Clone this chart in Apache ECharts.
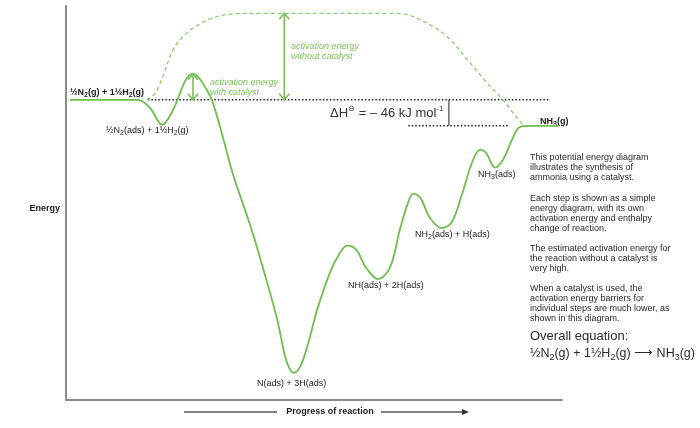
<!DOCTYPE html>
<html><head><meta charset="utf-8">
<script src="https://cdn.jsdelivr.net/npm/echarts@6/dist/echarts.min.js"></script>
<style>html,body{margin:0;padding:0;background:#fff}#c{width:700px;height:428px}</style>
</head><body><div id="c"></div>
<script>
// Catalysed pathway: progress of reaction (0-100) and energy (kJ mol-1, reactants = 0)
const catX = [0.8,14.5,16.9,19.4,21.4,23.4,24.4,25.6,26.8,28.0,29.4,31.5,33.7,37.1,39.7,42.5,44.2,45.0,45.8,46.8,47.8,49.2,50.6,53.2,55.2,56.7,58.5,60.5,62.9,65.3,67.3,69.0,70.0,71.4,73.4,75.8,77.8,79.8,81.9,83.5,84.7,86.5,88.1,89.9,91.5,93.5,99.2];
const catE = [0,0,-14,-44,-21,21,39,46,39,23,0,-62,-133,-221,-297,-386,-455,-474,-483,-478,-460,-419,-372,-306,-271,-258,-265,-297,-317,-297,-230,-181,-166,-173,-209,-227,-216,-168,-110,-88,-94,-120,-106,-71,-48,-46,-46];
// Uncatalysed pathway
const uncatX = [16.3,18.0,19.4,21.6,23.6,25.6,29.6,33.7,39.1,66.7,71.4,76.8,81.5,84.9,88.1,90.5,92.1];
const uncatE = [0,12,39,89,112,127,145,152,153,153,142,112,65,30,0,-27,-44];
const reactantEnergy = 0;
const productEnergy = -46;
const deltaH = productEnergy - reactantEnergy;
const firstBarrierX = 25.6;
const uncatArrowX = 44.0;
const deltaHX = 77.2;
const reactantLevelX = [16.5, 97.6];
const productLevelX = [69.0, 89.5];

const GREEN = '#6fbe4f', LGREEN = '#8ccd6c', AGREEN = '#78c258', TXT = '#222';
const FF = '"Liberation Sans", Arial, Helvetica, sans-serif';

const zip = (xs, ys) => xs.map((x, i) => [x, ys[i]]);
const catPeak = Math.max(...catE);
const uncatPeak = Math.max(...uncatE);

const chart = echarts.init(document.getElementById('c'), null, {renderer: 'canvas'});

function subRich(size, color, weight) {
  return {
    s: {fontSize: Math.round(size * 0.75), fontFamily: FF, fill: color, fontWeight: weight || 'normal',
        verticalAlign: 'bottom', lineHeight: Math.round(size * 0.9)},
    p: {fontSize: Math.round(size * 0.65), fontFamily: FF, fill: color, fontWeight: weight || 'normal',
        verticalAlign: 'top', lineHeight: Math.round(size * 0.9)}
  };
}
function txt(text, x, y, opt) {
  opt = opt || {};
  const size = opt.fontSize || 9, color = opt.fill || TXT;
  return {type: 'text', silent: true, style: Object.assign({
    text: text, x: x, y: y, fill: TXT, fontSize: 9, fontFamily: FF,
    textAlign: 'left', textVerticalAlign: 'middle', lineHeight: Math.round(size * 1.3),
    rich: subRich(size, color, opt.fontWeight)
  }, opt)};
}

const rightStyle = {textVerticalAlign: 'top', lineHeight: 10.2, fill: '#2a2a2a'};

chart.setOption({
  animation: false,
  grid: {left: 66, right: 138, top: 6, bottom: 28},
  xAxis: {type: 'value', min: 0, max: 100,
    axisLine: {show: true, onZero: false, lineStyle: {color: '#8a8a8a', width: 2}},
    axisTick: {show: false}, axisLabel: {show: false}, splitLine: {show: false}},
  yAxis: {type: 'value', min: -531, max: 166,
    axisLine: {show: true, onZero: false, lineStyle: {color: '#8a8a8a', width: 2}},
    axisTick: {show: false}, axisLabel: {show: false}, splitLine: {show: false}},
  series: [
    {type: 'line', name: 'reactant level', data: zip(reactantLevelX, [reactantEnergy, reactantEnergy]),
      showSymbol: false, lineStyle: {color: '#222', width: 1.5, type: [1.5, 2]}, z: 1},
    {type: 'line', name: 'product level', data: zip(productLevelX, [productEnergy, productEnergy]),
      showSymbol: false, lineStyle: {color: '#222', width: 1.5, type: [1.5, 2]}, z: 1},
    {type: 'line', name: 'deltaH', data: [[deltaHX, reactantEnergy], [deltaHX, reactantEnergy + deltaH]],
      showSymbol: false, lineStyle: {color: '#222', width: 1}, z: 1},
    {type: 'line', name: 'without catalyst', data: zip(uncatX, uncatE), smooth: 0.35,
      showSymbol: false, lineStyle: {color: LGREEN, width: 1.3, type: [4, 3]}, z: 2},
    {type: 'line', name: 'with catalyst', data: zip(catX, catE), smooth: 0.35,
      showSymbol: false, lineStyle: {color: GREEN, width: 1.8}, z: 3},
    {type: 'custom', name: 'arrows', coordinateSystem: 'cartesian2d',
      encode: {x: 0, y: [1, 2]},
      data: [[firstBarrierX, reactantEnergy, catPeak], [uncatArrowX, reactantEnergy, uncatPeak]],
      renderItem: function (params, api) {
        const x = api.value(0), lo = api.value(1), hi = api.value(2);
        const a = api.coord([x, lo]), b = api.coord([x, hi]);
        const w = 5, h = 6, st = {stroke: AGREEN, lineWidth: 1.6, fill: null};
        return {type: 'group', children: [
          {type: 'line', shape: {x1: a[0], y1: a[1] - 1, x2: b[0], y2: b[1] + 1}, style: st},
          {type: 'polyline', shape: {points: [[b[0] - w, b[1] + h], [b[0], b[1]], [b[0] + w, b[1] + h]]}, style: st},
          {type: 'polyline', shape: {points: [[a[0] - w, a[1] - h], [a[0], a[1]], [a[0] + w, a[1] - h]]}, style: st}
        ]};
      }, z: 4}
  ],
  graphic: [
    txt('½N{s|2}(g) + 1½H{s|2}(g)', 70, 93, {fontWeight: 'bold'}),
    txt('½N{s|2}(ads) + 1½H{s|2}(g)', 106, 131),
    txt('activation energy\nwith catalyst', 210, 87, {fontStyle: 'italic', fill: AGREEN, lineHeight: 10}),
    txt('activation energy\nwithout catalyst', 291, 51, {fontStyle: 'italic', fill: AGREEN, lineHeight: 10}),
    txt('ΔH{p|⊖} = – 46 kJ mol{p|-1}', 330, 113, {fontSize: 13, fill: '#333'}),
    txt('NH{s|3}(g)', 540, 122, {fontWeight: 'bold'}),
    txt('NH{s|3}(ads)', 478, 175),
    txt('NH{s|2}(ads) + H(ads)', 415, 235),
    txt('NH(ads) + 2H(ads)', 348, 286),
    txt('N(ads) + 3H(ads)', 257, 384),
    txt('Energy', 60, 209, {fontWeight: 'bold', textAlign: 'right'}),
    txt('This potential energy diagram\nillustrates the synthesis of\nammonia using a catalyst.', 530, 152, rightStyle),
    txt('Each step is shown as a simple\nenergy diagram, with its own\nactivation energy and enthalpy\nchange of reaction.', 530, 193, rightStyle),
    txt('The estimated activation energy for\nthe reaction without a catalyst is\nvery high.', 530, 243, rightStyle),
    txt('When a catalyst is used, the\nactivation energy barriers for\nindividual steps are much lower, as\nshown in this diagram.', 530, 283, rightStyle),
    txt('Overall equation:', 530, 336, {fontSize: 13, fill: '#2a2a2a'}),
    txt('½N{s|2}(g) + 1½H{s|2}(g) ⟶ NH{s|3}(g)', 530, 354, {fontSize: 12.5, fill: '#2a2a2a'}),
    txt('Progress of reaction', 330, 412, {fontWeight: 'bold', textAlign: 'center'}),
    {type: 'line', silent: true, shape: {x1: 184, y1: 412, x2: 277, y2: 412}, style: {stroke: '#555', lineWidth: 1.5}},
    {type: 'line', silent: true, shape: {x1: 381, y1: 412, x2: 463, y2: 412}, style: {stroke: '#555', lineWidth: 1.5}},
    {type: 'polygon', silent: true, shape: {points: [[462, 409], [469, 412], [462, 415]]}, style: {fill: '#333'}}
  ]
});
</script></body></html>
